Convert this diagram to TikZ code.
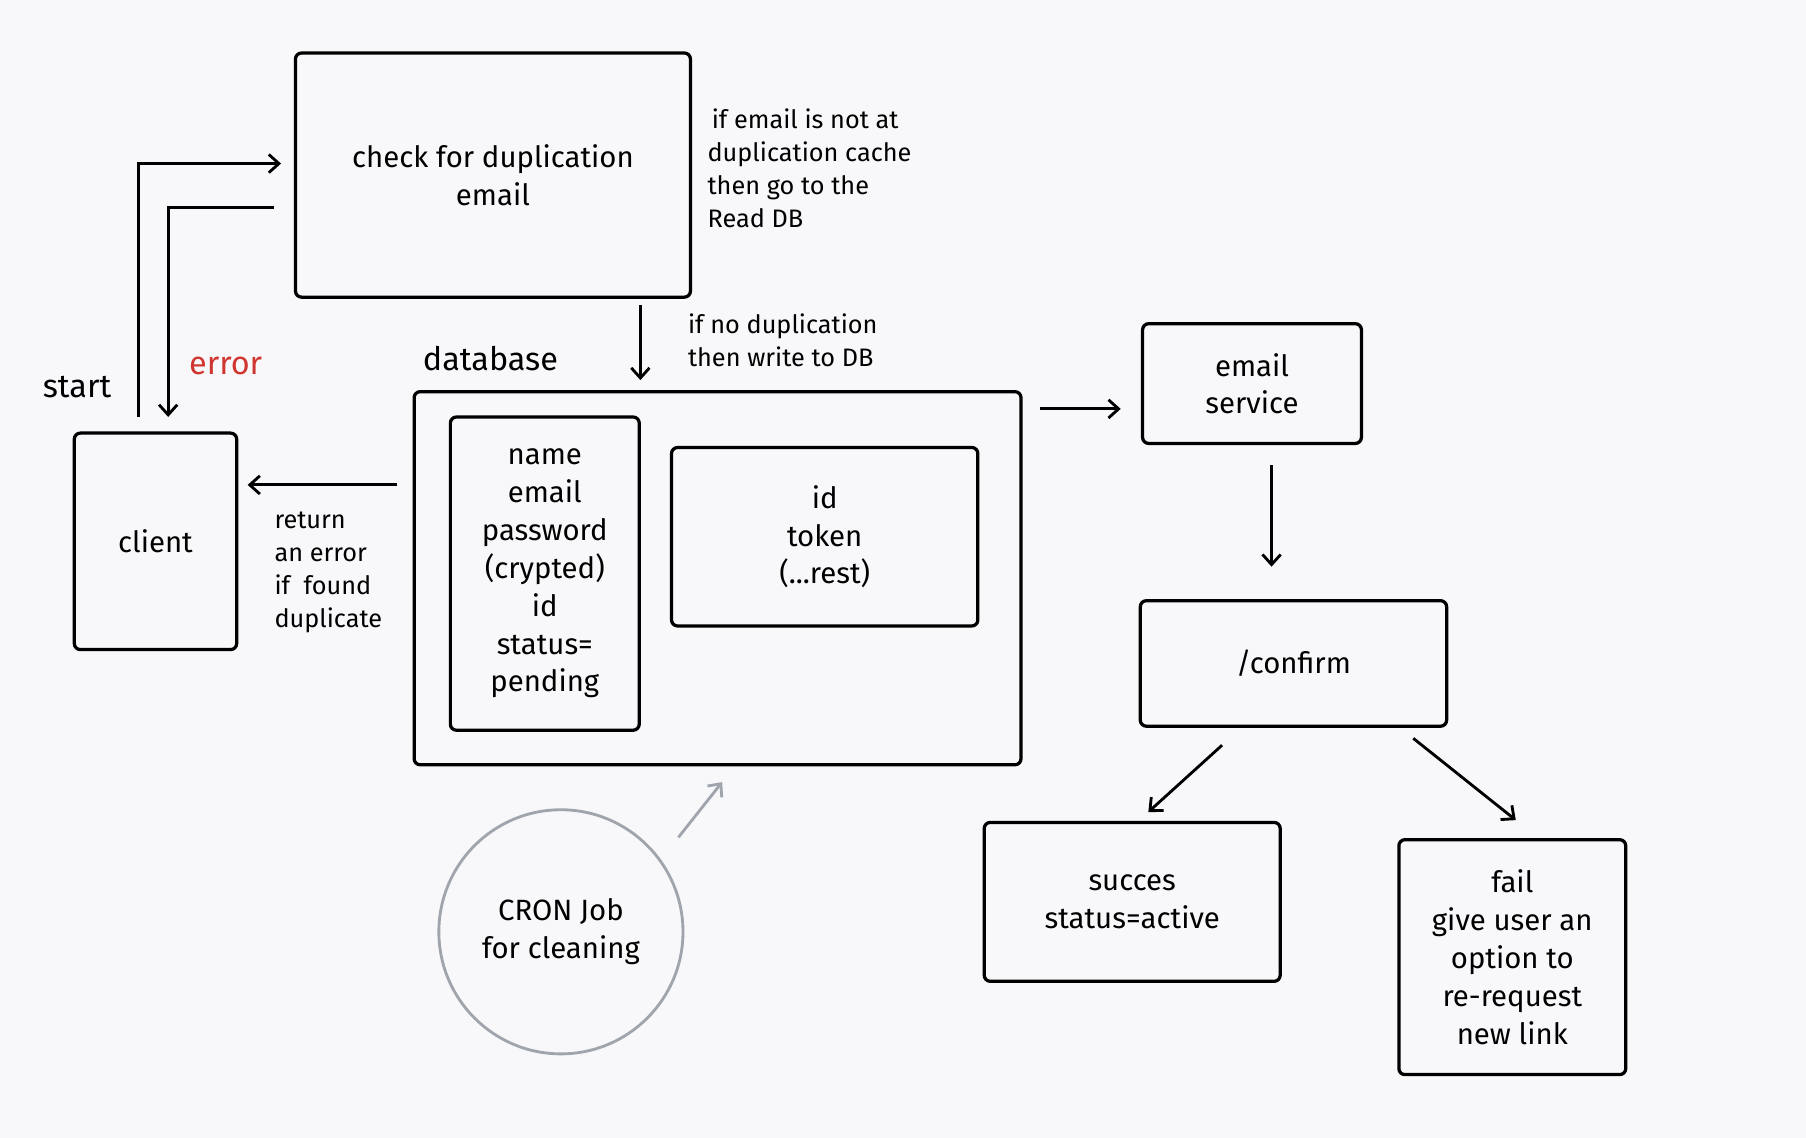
\documentclass[tikz,border=0pt]{standalone}
\usepackage{fontspec}
\setmainfont{Fira Sans}
\usetikzlibrary{positioning, arrows.meta}
\definecolor{bgcol}{HTML}{F8F8FA}
\definecolor{errred}{HTML}{D0352F}
\definecolor{crongrey}{HTML}{A0A5AD}
\begin{document}
\begin{tikzpicture}[x=0.02cm, y=-0.02cm, >={Straight Barb[length=5pt,width=9pt]}]
	\tikzset{
		box/.style = {draw, line width=1.6pt, rounded corners=3pt, align=center, font=\fontsize{14.5}{18.7}\selectfont, inner sep=0pt},
		note/.style = {align=left, anchor=north west, font=\fontsize{12.5}{16.4}\selectfont, inner sep=0pt},
		flow/.style = {->, line width=1.4pt}
	}
	\fill[bgcol] (0,0) rectangle (1568,988);
	\useasboundingbox (0,0) rectangle (1568,988);

	% boxes
	\node[box, minimum width=6.86cm, minimum height=4.24cm] (check) at (428,152) {check for duplication\\email};
	\node[box, minimum width=2.82cm, minimum height=3.76cm] (client) at (135,470) {client};
	\node[box, minimum width=10.54cm, minimum height=6.48cm] (db) at (623,502) {};
	\node[box, minimum width=3.28cm, minimum height=5.44cm] (fields) at (473,498) {name\\email\\password\\(crypted)\\id\\status=\\pending};
	\node[box, minimum width=5.32cm, minimum height=3.10cm] (rest) at (716,466) {id\\token\\(...rest)};
	\node[box, minimum width=3.80cm, minimum height=2.08cm, font=\fontsize{14.5}{18}\selectfont] (mail) at (1087,333) {email\\service};
	\node[box, minimum width=5.32cm, minimum height=2.18cm] (confirm) at (1123,576) {/confirm};
	\node[box, minimum width=5.14cm, minimum height=2.76cm] (succes) at (983,783) {succes\\status=active};
	\node[box, minimum width=3.94cm, minimum height=4.08cm] (fail) at (1313,831) {fail\\give user an\\option to\\re-request\\new link};
	\node[draw=crongrey, line width=1.4pt, circle, minimum size=4.24cm, align=center, font=\fontsize{14.5}{18.7}\selectfont] (cron) at (487,809) {CRON Job\\for cleaning};

	% labels
	\node[font=\fontsize{16}{18}\selectfont, anchor=west] (start) at (31,336) {start};
	\node[font=\fontsize{16}{18}\selectfont, anchor=west, text=errred] (err) at (158,318) {error};
	\node[font=\fontsize{16}{18}\selectfont, anchor=west] (dblabel) at (361,311) {database};
	\node[note] (n1) at (614,94) {\,if email is not at\\duplication cache\\then go to the\\Read DB};
	\node[note] (n2) at (597,272) {if no duplication\\then write to DB};
	\node[note] (n3) at (238,444) {return\\an error\\if\ \ found\\duplicate};

	% free ends
	\coordinate (s1) at (120,362);
	\coordinate (s2) at (244,142);
	\coordinate (e1) at (238,180);
	\coordinate (e2) at (146,362);
	\coordinate (c1) at (556,265);
	\coordinate (c2) at (556,330);
	\coordinate (r1) at (345,421);
	\coordinate (r2) at (215,421);
	\coordinate (m1) at (903,355);
	\coordinate (m2) at (973,355);
	\coordinate (k1) at (1104,404);
	\coordinate (k2) at (1104,492);
	\coordinate (f1) at (1061,647);
	\coordinate (f2) at (997,705);
	\coordinate (g1) at (1227,641);
	\coordinate (g2) at (1316,712);
	\coordinate (j1) at (589,727);
	\coordinate (j2) at (627,679);

	% connectors
	\draw[flow] (s1) |- (s2);
	\draw[flow] (e1) -| (e2);
	\draw[flow] (c1) -- (c2);
	\draw[flow] (r1) -- (r2);
	\draw[flow] (m1) -- (m2);
	\draw[flow] (k1) -- (k2);
	\draw[flow] (f1) -- (f2);
	\draw[flow] (g1) -- (g2);
	\draw[flow, crongrey] (j1) -- (j2);
\end{tikzpicture}
\end{document}
